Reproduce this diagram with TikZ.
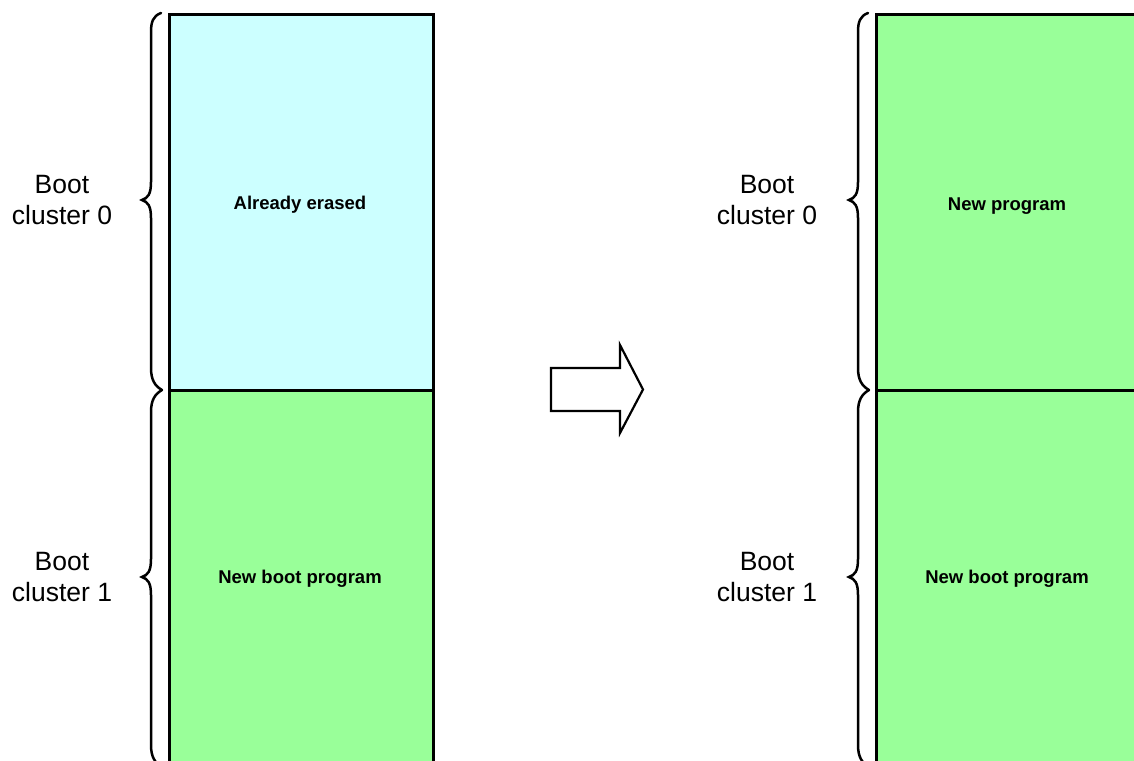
\documentclass[tikz,border=0pt]{standalone}
\usepackage{fontspec}
\setmainfont{Liberation Sans}
\definecolor{erasedcyan}{HTML}{CCFFFF}
\definecolor{progreen}{HTML}{99FF99}
\tikzset{
  blockbox/.style={draw=black, line width=3pt},
  bracepath/.style={draw=black, line width=2.5pt, line cap=round},
  sidelabel/.style={align=center, font=\fontsize{26.5}{31}\selectfont, inner sep=0pt},
  innerlabel/.style={align=center, font=\fontsize{18.5}{22}\selectfont\bfseries, inner sep=0pt},
  bigarrow/.style={draw=black, line width=2.2pt, fill=white, line join=miter}
}
\begin{document}
\begin{tikzpicture}[x=1pt, y=-1pt]
\clip (0,0) rectangle (1134,760);
\fill[white] (0,0) rectangle (1134,760);
% ---------- left panel ----------
\fill[erasedcyan] (169,15) rectangle (433,390);
\fill[progreen] (169,390) rectangle (433,770);
\draw[blockbox] (169,770) -- (169,15) -- (433,15) -- (433,770);
\draw[blockbox] (169,390) -- (433,390);
% braces
\draw[bracepath] (161,13) .. controls (153,16) and (151,22) .. (151,32)
  -- (151,182) .. controls (151,194) and (148,198) .. (142,200)
  .. controls (148,202) and (151,206) .. (151,218)
  -- (151,368) .. controls (151,380) and (155,386) .. (162,390);
\draw[bracepath] (162,390) .. controls (155,394) and (151,400) .. (151,412)
  -- (151,559) .. controls (151,571) and (148,575) .. (142,577)
  .. controls (148,579) and (151,583) .. (151,595)
  -- (151,745) .. controls (151,757) and (155,763) .. (162,767);
\node[sidelabel] (lb0) at (62,200) {Boot\\cluster 0};
\node[sidelabel] (lb1) at (62,577) {Boot\\cluster 1};
\node[innerlabel] (lt0) at (300,205) {Already erased};
\node[innerlabel] (lt1) at (300,579) {New boot program};
% ---------- arrow ----------
\draw[bigarrow] (551,368) -- (620,368) -- (620,345) -- (643,389.5) -- (620,433) -- (620,411) -- (551,411) -- cycle;
% ---------- right panel ----------
\fill[progreen] (876,15) rectangle (1145,770);
\draw[blockbox] (876,770) -- (876,15) -- (1145,15);
\draw[blockbox] (876,390) -- (1145,390);
\draw[bracepath] (868,13) .. controls (860,16) and (858,22) .. (858,32)
  -- (858,182) .. controls (858,194) and (855,198) .. (849,200)
  .. controls (855,202) and (858,206) .. (858,218)
  -- (858,368) .. controls (858,380) and (862,386) .. (869,390);
\draw[bracepath] (869,390) .. controls (862,394) and (858,400) .. (858,412)
  -- (858,559) .. controls (858,571) and (855,575) .. (849,577)
  .. controls (855,579) and (858,583) .. (858,595)
  -- (858,745) .. controls (858,757) and (862,763) .. (869,767);
\node[sidelabel] (rb0) at (767,200) {Boot\\cluster 0};
\node[sidelabel] (rb1) at (767,577) {Boot\\cluster 1};
\node[innerlabel] (rt0) at (1007,206) {New program};
\node[innerlabel] (rt1) at (1007,579) {New boot program};
\end{tikzpicture}
\end{document}
